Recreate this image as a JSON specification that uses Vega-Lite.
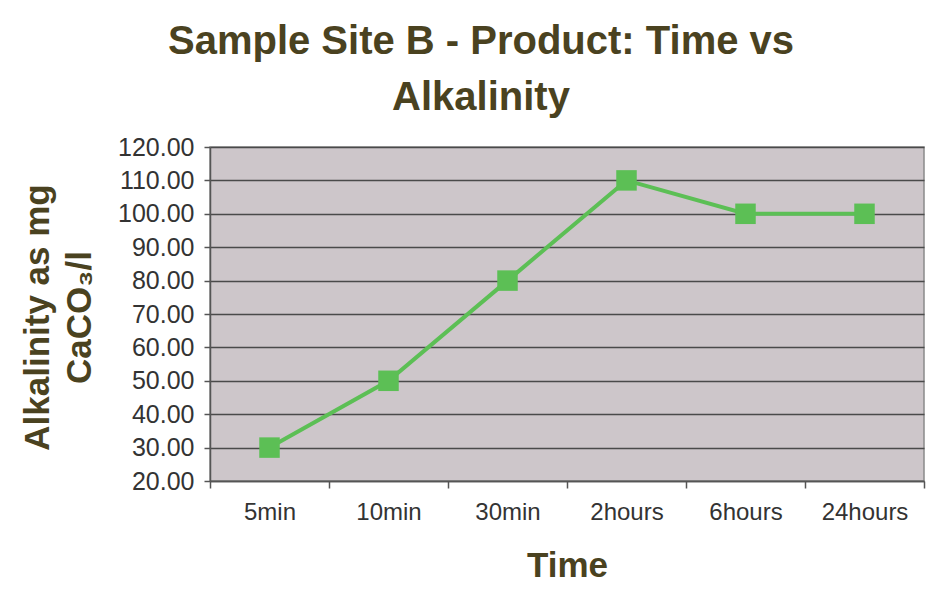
{
  "$schema": "https://vega.github.io/schema/vega-lite/v6.json",
  "width": 714,
  "height": 334,
  "autosize": {"type": "none"},
  "padding": {"left": 210, "top": 147, "right": 21, "bottom": 123},
  "background": "#ffffff",
  "title": {
    "text": ["Sample Site B - Product: Time vs", "Alkalinity"],
    "font": "Liberation Sans",
    "fontSize": 40,
    "fontWeight": "bold",
    "color": "#4a4220",
    "lineHeight": 56,
    "anchor": "middle",
    "frame": "group",
    "dx": -86,
    "offset": 17
  },
  "config": {
    "view": {"fill": "#cdc6ca", "stroke": "#8a8a8a", "strokeWidth": 1.5},
    "font": "Liberation Sans"
  },
  "data": {
    "values": [
      {"time": "5min", "alkalinity": 30},
      {"time": "10min", "alkalinity": 50},
      {"time": "30min", "alkalinity": 80},
      {"time": "2hours", "alkalinity": 110},
      {"time": "6hours", "alkalinity": 100},
      {"time": "24hours", "alkalinity": 100}
    ]
  },
  "encoding": {
    "x": {
      "field": "time",
      "type": "nominal",
      "sort": null,
      "scale": {"paddingInner": 0, "paddingOuter": 0},
      "axis": {
        "title": "Time",
        "titleFont": "Liberation Sans",
        "titleFontSize": 35,
        "titleFontWeight": "bold",
        "titleColor": "#4a4220",
        "titlePadding": 24,
        "labelAngle": 0,
        "labelFont": "Liberation Sans",
        "labelFontSize": 24,
        "labelColor": "#333333",
        "labelPadding": 12,
        "tickBand": "extent",
        "tickSize": 7,
        "tickColor": "#555555",
        "tickWidth": 1.5,
        "domainColor": "#555555",
        "domainWidth": 1.5,
        "grid": false
      }
    },
    "y": {
      "field": "alkalinity",
      "type": "quantitative",
      "scale": {"domain": [20, 120], "nice": false, "zero": false},
      "axis": {
        "title": ["Alkalinity as mg", "CaCO₃/l"],
        "titleFont": "Liberation Sans",
        "titleFontSize": 35,
        "titleFontWeight": "bold",
        "titleColor": "#4a4220",
        "titleLineHeight": 42,
        "titleBaseline": "top",
        "titleAngle": -90,
        "titleX": -190,
        "titleY": 170,
        "titleAlign": "center",
        "values": [20, 30, 40, 50, 60, 70, 80, 90, 100, 110, 120],
        "format": ".2f",
        "labelFont": "Liberation Sans",
        "labelFontSize": 25,
        "labelColor": "#333333",
        "labelPadding": 10,
        "tickSize": 6,
        "tickColor": "#555555",
        "tickWidth": 1.5,
        "domainColor": "#555555",
        "domainWidth": 1.5,
        "grid": true,
        "gridColor": "#4a4a4a",
        "gridWidth": 1.5
      }
    }
  },
  "layer": [
    {
      "mark": {"type": "line", "color": "#5cbf55", "strokeWidth": 4}
    },
    {
      "mark": {"type": "point", "shape": "square", "filled": true, "color": "#5cbf55", "opacity": 1, "size": 420}
    }
  ]
}
